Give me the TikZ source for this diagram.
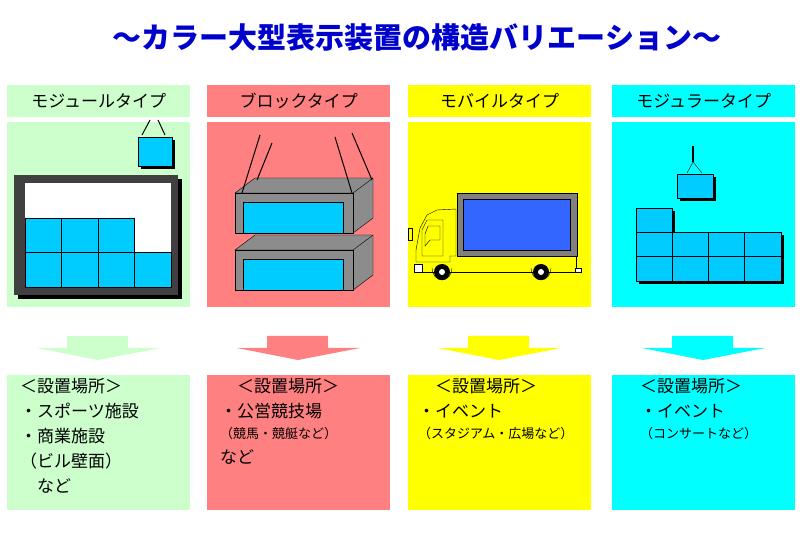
\documentclass[tikz,border=0pt]{standalone}
\usepackage{fontspec}
\setmainfont{Noto Sans CJK JP}
\usetikzlibrary{positioning}
\definecolor{cgreen}{HTML}{CCFFCC}
\definecolor{cred}{HTML}{FF8080}
\definecolor{cyel}{HTML}{FFFF00}
\definecolor{ccyan}{HTML}{00FFFF}
\definecolor{cell}{HTML}{00CCFF}
\definecolor{scr}{HTML}{3366FF}
\tikzset{head/.style={minimum width=183pt,minimum height=32pt,inner sep=0pt,font=\fontsize{17}{17}\selectfont},
  cellbox/.style={fill=cell,draw=black,line width=0.6pt},
  shadow/.style={fill=black},
  place/.style={anchor=north west,align=left,font=\fontsize{17}{25}\selectfont,inner sep=0pt}}
\begin{document}
\begin{tikzpicture}[x=1pt,y=-1pt]
\useasboundingbox (0,0) rectangle (800,534);
\node[font=\bfseries\fontsize{29}{29}\selectfont,text=blue!80!black] (title) at (417,38) {～カラー大型表示装置の構造バリエーション～};
% columns
\foreach \x/\c/\t [count=\i] in {7/cgreen/モジュールタイプ,207/cred/ブロックタイプ,408/cyel/モバイルタイプ,612/ccyan/モジュラータイプ}{
  \node[head,fill=\c,anchor=north west] (h\i) at (\x,85) {\t};
  \fill[\c] (\x,122) rectangle ++(183,185);
  \fill[\c] (\x+60,336) -- (\x+121,336) -- (\x+121,348) -- (\x+153,348) -- (\x+91,360) -- (\x+30,348) -- (\x+60,348) -- cycle;
  \fill[\c] (\x,375) rectangle ++(183,135);
}
% module type
\fill[shadow] (18,179) rectangle (182,299);
\fill[black!75] (14,175) rectangle (178,295);
\fill[white] (25,183) rectangle (171,287);
\foreach \i in {0,1,2} \draw[cellbox] (25+36.5*\i,218) rectangle ++(36.5,34);
\foreach \i in {0,...,3} \draw[cellbox] (25+36.5*\i,252) rectangle ++(36.5,35);
\fill[shadow] (141,140) rectangle (175,169);
\draw[cellbox] (138,137) rectangle (172,166);
\draw[line width=1pt] (142,135) -- (150,120) (165,135) -- (158,120);
% block type
\foreach \y in {193,250}{
  \draw[fill=black!45] (235,\y) -- ++(20,-15) -- ++(118,0) -- ++(0,40) -- ++(-20,15) -- ++(0,-40) -- cycle;
  \draw[fill=black!45] (235,\y) rectangle ++(118,40);
  \draw (353,\y) -- ++(20,-15);
  \draw[fill=cell] (243,\y+9) rectangle ++(100,31);
}
\draw[line width=1pt] (242,193) -- (260,135) (257,180) -- (272,143) (352,193) -- (335,137) (372,180) -- (352,133);
% mobile type
\draw[fill=black!50] (457,193) rectangle (577,256);
\draw[fill=scr] (463,199) rectangle (570,250);
\draw[fill=cyel] (416,262) -- (416,250) -- (420,228) -- (427,215) -- (437,210) -- (456,209) -- (456,256) -- (450,256) -- (450,262) -- cycle;
\draw (422,230) -- (427,220) -- (443,220) -- (443,256) -- (422,256) -- cycle;
\draw (425,234) -- (428,226) -- (440,226) -- (440,240) -- (430,240) -- (425,246) -- cycle;
\draw (408,228) rectangle (412,240);
\draw (416,272) -- (580,272) (576,256) -- (576,268);
\draw[fill=white] (414,264) rectangle (422,272) (575,268) rectangle (581,272);
\draw (432,268) arc (180:360:10 and -12) (531,268) arc (180:360:10 and -12);
\foreach \wx in {442,541}{\fill (\wx,272) circle (8); \fill[white] (\wx,272) circle (3);}
% modular type
\fill[shadow] (680,177) rectangle (716,201);
\draw[cellbox] (677,174) rectangle (713,198);
\draw[line width=1.5pt] (693,146) -- (693,162);
\draw (693,162) -- (687,173) (693,162) -- (702,173);
\fill[shadow] (639,211) rectangle (675,235);
\fill[shadow] (639,235) rectangle (784,284);
\draw[cellbox] (636,208) rectangle (672,232);
\foreach \i in {0,...,3}\foreach \j in {0,1}
  \draw[cellbox] (636+36.25*\i,232+24.5*\j) rectangle ++(36.25,24.5);
% places
\node[place] (p1) at (20,378) {＜設置場所＞\\・スポーツ施設\\・商業施設\\（ビル壁面）\\　など};
\node[place] (p2) at (220,378) {　＜設置場所＞\\・公営競技場\\[-4pt]{\fontsize{13}{15}\selectfont （競馬・競艇など）}\\など};
\node[place] (p3) at (418,378) {　＜設置場所＞\\・イベント\\[-4pt]{\fontsize{13}{15}\selectfont （スタジアム・広場など）}};
\node[place] (p4) at (640,378) {＜設置場所＞\\・イベント\\[-4pt]{\fontsize{13}{15}\selectfont （コンサートなど）}};
\end{tikzpicture}
\end{document}
